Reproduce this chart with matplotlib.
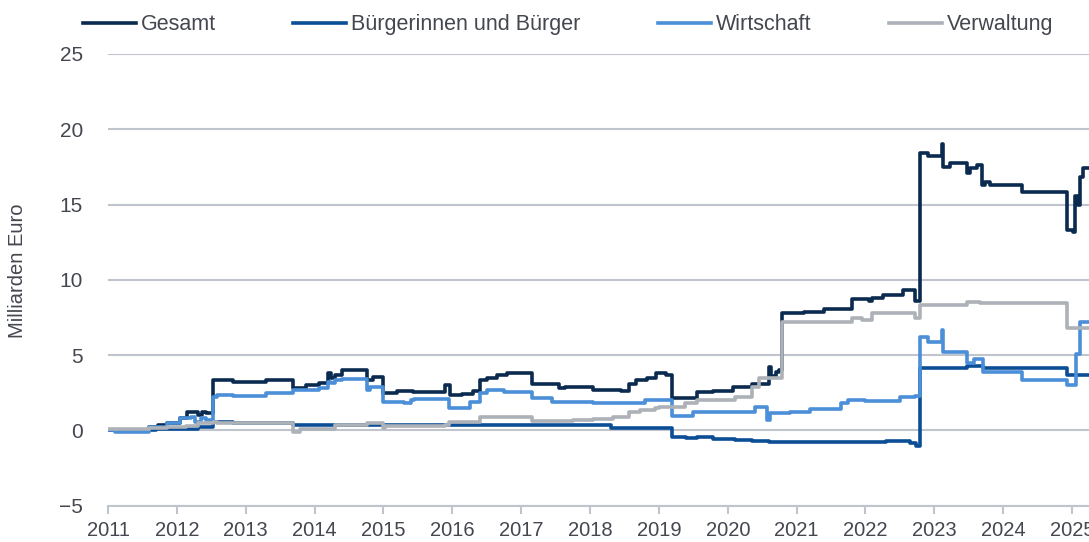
import matplotlib
matplotlib.use("Agg")
import matplotlib.pyplot as plt

plt.rcParams["font.family"] = ["Liberation Sans", "DejaVu Sans"]

# values (decimal year, bn euro), step series
gesamt_x = [2011.00, 2011.60, 2011.73, 2011.85, 2012.05, 2012.15, 2012.30, 2012.37, 2012.43,
            2012.53, 2012.82, 2013.30, 2013.69, 2013.88, 2014.07, 2014.20, 2014.24, 2014.30,
            2014.40, 2014.76, 2014.85, 2014.99, 2015.20, 2015.43, 2015.90, 2015.96, 2016.14,
            2016.30, 2016.40, 2016.50, 2016.65, 2016.80, 2017.15, 2017.55, 2017.63, 2018.05,
            2018.45, 2018.57, 2018.67, 2018.82, 2018.96, 2019.10, 2019.19, 2019.55, 2019.79,
            2020.08, 2020.35, 2020.60, 2020.63, 2020.70, 2020.74, 2020.79, 2021.10, 2021.40,
            2021.80, 2022.05, 2022.10, 2022.26, 2022.55, 2022.72, 2022.79, 2022.91, 2023.11,
            2023.13, 2023.23, 2023.47, 2023.52, 2023.62, 2023.69, 2023.73, 2023.81, 2024.27,
            2024.92, 2025.02, 2025.04, 2025.09, 2025.12, 2025.16, 2025.30]
gesamt_y = [0.0, 0.25, 0.37, 0.48, 0.81, 1.25, 1.03, 1.25, 1.14,
            3.35, 3.24, 3.35, 2.82, 3.0, 3.14, 3.8, 3.46, 3.7,
            4.02, 3.35, 3.58, 2.46, 2.6, 2.58, 3.0, 2.36, 2.45,
            2.65, 3.35, 3.5, 3.7, 3.8, 3.1, 2.85, 2.9, 2.7,
            2.6, 3.1, 3.35, 3.5, 3.8, 3.7, 2.15, 2.58, 2.65,
            2.9, 3.1, 4.2, 3.6, 3.9, 4.0, 7.8, 7.9, 8.1,
            8.75, 8.6, 8.8, 9.0, 9.3, 8.6, 18.45, 18.2, 19.0,
            17.5, 17.74, 17.1, 17.4, 17.6, 16.3, 16.5, 16.3, 15.86,
            13.3, 13.2, 15.6, 15.0, 16.85, 17.4, 17.4]

buerger_x = [2011.00, 2011.70, 2012.30, 2012.53, 2012.82, 2013.69, 2018.30, 2019.19, 2019.40,
             2019.55, 2019.79, 2020.10, 2020.35, 2020.60, 2022.30, 2022.65, 2022.74, 2022.79,
             2023.47, 2023.71, 2024.92, 2025.30]
buerger_y = [0.0, 0.1, 0.2, 0.58, 0.5, 0.37, 0.18, -0.4, -0.5,
             -0.41, -0.55, -0.6, -0.72, -0.78, -0.7, -0.85, -1.0, 4.15,
             4.3, 4.15, 3.68, 3.68]

wirtschaft_x = [2011.00, 2011.10, 2011.60, 2011.85, 2012.05, 2012.20, 2012.27, 2012.35, 2012.43,
                2012.53, 2012.58, 2012.82, 2013.30, 2013.69, 2014.07, 2014.20, 2014.24, 2014.30,
                2014.40, 2014.76, 2014.80, 2014.99, 2015.30, 2015.40, 2015.45, 2015.95, 2016.25,
                2016.40, 2016.50, 2016.75, 2017.15, 2017.45, 2018.05, 2018.80, 2019.19, 2019.50,
                2020.40, 2020.57, 2020.62, 2020.90, 2021.20, 2021.65, 2021.75, 2022.00, 2022.50,
                2022.72, 2022.79, 2022.91, 2023.11, 2023.13, 2023.47, 2023.58, 2023.71, 2024.27,
                2024.92, 2025.06, 2025.12, 2025.30]
wirtschaft_y = [0.0, -0.1, 0.25, 0.48, 0.8, 0.92, 0.58, 0.81, 0.7,
                2.25, 2.36, 2.3, 2.47, 2.7, 2.8, 3.25, 3.15, 3.35,
                3.4, 2.7, 2.9, 1.91, 1.8, 2.0, 2.1, 1.5, 1.9,
                2.47, 2.7, 2.58, 2.15, 1.9, 1.8, 2.0, 0.97, 1.2,
                1.55, 0.7, 1.15, 1.25, 1.45, 1.8, 2.0, 1.95, 2.2,
                2.3, 6.23, 5.9, 6.67, 5.23, 4.46, 4.76, 3.9, 3.35,
                3.0, 5.1, 7.2, 7.2]

verwaltung_x = [2011.00, 2011.60, 2011.85, 2012.13, 2012.30, 2012.53, 2012.58, 2013.69, 2013.79,
                2014.30, 2014.76, 2014.99, 2015.02, 2015.90, 2015.95, 2016.40, 2016.45, 2017.15,
                2017.75, 2018.05, 2018.34, 2018.57, 2018.73, 2018.95, 2019.00, 2019.38, 2019.55,
                2020.10, 2020.35, 2020.45, 2020.79, 2021.80, 2021.95, 2022.10, 2022.72, 2022.79,
                2023.47, 2023.66, 2024.92, 2025.30]
verwaltung_y = [0.08, 0.14, 0.25, 0.3, 0.48, 0.58, 0.52, -0.08, 0.08,
                0.37, 0.48, 0.14, 0.3, 0.37, 0.58, 0.87, 0.92, 0.65,
                0.72, 0.78, 0.9, 1.25, 1.36, 1.47, 1.58, 1.8, 2.0,
                2.25, 2.9, 3.5, 7.2, 7.45, 7.35, 7.78, 7.45, 8.33,
                8.55, 8.44, 6.8, 6.8]

years = list(range(2011, 2026))
yticks = [-5, 0, 5, 10, 15, 20, 25]

text_col = "#44474f"
grid_col = "#c0c4cc"

fig = plt.figure(figsize=(10.89, 5.42), dpi=100)
ax = fig.add_axes([0.0992, 0.0668, 0.9008, 0.8336])

ax.plot(gesamt_x, gesamt_y, drawstyle="steps-post", color="#0b2a4f", lw=2.6, label="Gesamt")
ax.plot(buerger_x, buerger_y, drawstyle="steps-post", color="#0b4e96", lw=2.6,
        label="Bürgerinnen und Bürger")
ax.plot(wirtschaft_x, wirtschaft_y, drawstyle="steps-post", color="#4a8fd8", lw=2.6,
        label="Wirtschaft")
ax.plot(verwaltung_x, verwaltung_y, drawstyle="steps-post", color="#adb2b8", lw=2.6,
        label="Verwaltung")

ax.set_xlim(2011, 2025.246)
ax.set_ylim(-5, 25)
ax.set_xticks(years)
ax.set_xticklabels([str(y) for y in years])
ax.set_yticks(yticks)
ax.set_yticklabels(["\u22125" if v < 0 else str(v) for v in yticks])

ax.grid(axis="y", color=grid_col, lw=1.5)
ax.set_axisbelow(True)
for s in ["top", "right", "left"]:
    ax.spines[s].set_visible(False)
ax.spines["bottom"].set_color(grid_col)
ax.spines["bottom"].set_linewidth(1.5)
ax.spines["bottom"].set_zorder(0.5)

ax.tick_params(axis="x", colors=grid_col, length=6, width=1.5, pad=5,
               labelcolor=text_col, labelsize=14.5)
ax.tick_params(axis="y", length=0, pad=18, labelcolor=text_col, labelsize=15)

ax.set_ylabel("Milliarden Euro", color=text_col, fontsize=14.5)
ax.yaxis.set_label_coords(-0.083, 0.52)

fig.legend(loc="center left", bbox_to_anchor=(0.076, 0.954), ncol=4, frameon=False,
           handlelength=2.46, handletextpad=0.23, columnspacing=3.6,
           borderaxespad=0, borderpad=0, fontsize=15.5, labelcolor=text_col)

fig.savefig("out.png", dpi=100)
